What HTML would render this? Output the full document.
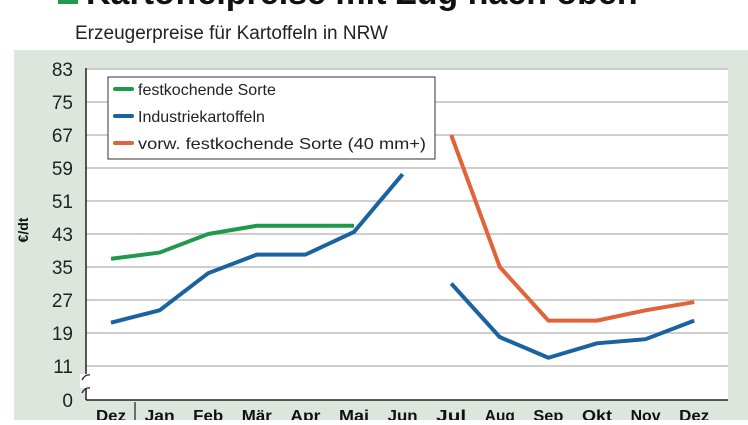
<!DOCTYPE html>
<html><head><meta charset="utf-8"><style>
body{margin:0;width:748px;height:420px;overflow:hidden;background:#fff;font-family:"Liberation Sans",sans-serif}
</style></head><body>
<svg width="748" height="420" xmlns="http://www.w3.org/2000/svg">
<rect x="58" y="-14" width="20" height="18" fill="#1f9a4a"/>
<text x="86" y="4" font-size="34" font-weight="bold" fill="#111">Kartoffelpreise mit Zug nach oben</text>
<text x="75" y="39" font-size="19" fill="#222">Erzeugerpreise für Kartoffeln in NRW</text>
<rect x="14" y="50" width="734" height="370" fill="#dde6dc"/>
<rect x="86" y="68" width="642" height="332" fill="#fff"/>
<g id="grid"></g>
<g id="series"></g>
<line x1="86" y1="68" x2="86" y2="400" stroke="#222" stroke-width="1.5"/>
<line x1="86" y1="400" x2="728" y2="400" stroke="#222" stroke-width="1.5"/>
<rect x="80" y="374" width="12" height="14" fill="#fff"/>
<path d="M82 380 q3 -6 8 -5 M82 393 q3 -6 8 -5" stroke="#222" stroke-width="1.3" fill="none"/>
<line x1="135" y1="402" x2="135" y2="420" stroke="#222" stroke-width="1.2"/>
<text transform="translate(28,230) rotate(-90)" font-size="14" font-weight="bold" text-anchor="middle" fill="#111">€/dt</text>
<g id="ticks"></g>
<rect x="108" y="77" width="327" height="82" fill="#fff" stroke="#333" stroke-width="1"/>
<g><line x1="115" y1="89" x2="132" y2="89" stroke="#1f9a4a" stroke-width="4" stroke-linecap="round"/><text x="138" y="95" font-size="16" fill="#222">festkochende Sorte</text></g>
<g><line x1="115" y1="116" x2="132" y2="116" stroke="#1a62a0" stroke-width="4" stroke-linecap="round"/><text x="138" y="122" font-size="16" fill="#222">Industriekartoffeln</text></g>
<g><line x1="115" y1="143" x2="132" y2="143" stroke="#e0633a" stroke-width="4" stroke-linecap="round"/><text x="138" y="149" font-size="16" fill="#222" textLength="288" lengthAdjust="spacingAndGlyphs">vorw. festkochende Sorte (40 mm+)</text></g>
</svg>
<script>
const months=["Dez","Jan","Feb","Mär","Apr","Mai","Jun","Jul","Aug","Sep","Okt","Nov","Dez"];
const yTicks=[83,75,67,59,51,43,35,27,19,11];
const green=[37,38.5,43,45,45,45,null,null,null,null,null,null,null];
const blue1=[21.5,24.5,33.5,38,38,43.5,57.5,null,null,null,null,null,null];
const blue2=[null,null,null,null,null,null,null,31,18,13,16.5,17.5,22];
const orange=[null,null,null,null,null,null,null,67,35,22,22,24.5,26.5];
const NS="http://www.w3.org/2000/svg";
const xs=i=>111+i*48.6;
const ys=v=>v<11?400-(v/11)*34:366-(v-11)*4.125;
const grid=document.getElementById('grid'),ticks=document.getElementById('ticks'),ser=document.getElementById('series');
yTicks.forEach(t=>{
 const l=document.createElementNS(NS,'line');
 
 
 l.setAttribute('x1',86);l.setAttribute('x2',728);l.setAttribute('y1',ys(t));l.setAttribute('y2',ys(t));
 l.setAttribute('stroke','#bdbdbd');l.setAttribute('stroke-width','1.5');grid.appendChild(l);
 const tx=document.createElementNS(NS,'text');
 
 
 tx.setAttribute('x',73);tx.setAttribute('y',ys(t)+7);tx.setAttribute('text-anchor','end');tx.setAttribute('font-size','19');tx.setAttribute('fill','#222');
 tx.textContent=t;ticks.appendChild(tx);
});
const z=document.createElementNS(NS,'text');


z.setAttribute('x',73);z.setAttribute('y',407);z.setAttribute('text-anchor','end');z.setAttribute('font-size','19');z.setAttribute('fill','#222');z.textContent='0';ticks.appendChild(z);
months.forEach((m,i)=>{
 const tx=document.createElementNS(NS,'text');
 
 
 tx.setAttribute('x',xs(i));tx.setAttribute('y',421);tx.setAttribute('text-anchor','middle');tx.setAttribute('font-size','16');tx.setAttribute('font-weight','bold');tx.setAttribute('fill','#111');
 tx.setAttribute('textLength','30');tx.setAttribute('lengthAdjust','spacingAndGlyphs');
 tx.textContent=m;ticks.appendChild(tx);
});
function draw(arr,color,name){
 const pts=[];arr.forEach((v,i)=>{if(v!=null)pts.push(xs(i)+','+ys(v));});
 const p=document.createElementNS(NS,'polyline');
 
 
 p.setAttribute('points',pts.join(' '));p.setAttribute('fill','none');p.setAttribute('stroke',color);p.setAttribute('stroke-width','4');p.setAttribute('stroke-linejoin','round');
 ser.appendChild(p);
}
draw(green,'#1f9a4a','series-festkochend');
draw(blue1,'#1a62a0','series-industrie-1');
draw(blue2,'#1a62a0','series-industrie-2');
draw(orange,'#e0633a','series-vorw-festkochend');
</script>
</body></html>
